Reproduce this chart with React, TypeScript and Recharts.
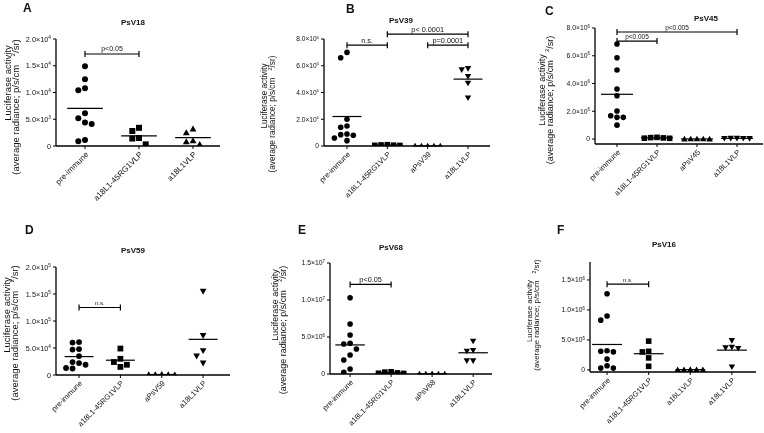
import React from "react"
import { ScatterChart, Scatter, XAxis, YAxis, ReferenceLine } from "recharts"

const FONT = '"Liberation Sans", Arial, Helvetica, sans-serif'
const INK = { fill: "#111" }

// panel headings
const letters = ["A", "B", "C", "D", "E", "F"]
const titles = ["PsV18", "PsV39", "PsV45", "PsV59", "PsV68", "PsV16"]

// x categories
const catsA = ["pre-immune", "a18L1-45RG1VLP", "a18L1VLP"]
const catsB = ["pre-immune", "a18L1-45RG1VLP", "aPsV39", "a18L1VLP"]
const catsC = ["pre-immune", "a18L1-45RG1VLP", "aPsV45", "a18L1VLP"]
const catsD = ["pre-immune", "a18L1-45RG1VLP", "aPsV59", "a18L1VLP"]
const catsE = ["pre-immune", "a18L1-45RG1VLP", "aPsV68", "a18L1VLP"]
const catsF = ["pre-immune", "a18L1-45RG1VLP", "a16L1VLP", "a18L1VLP"]

// luciferase activity (average radiance) per animal, one list per group
const psv18 = [
  [14900, 12500, 10800, 10400, 6100, 5200, 4400, 4100, 1100, 900],
  [3400, 2800, 1500, 1400, 300],
  [3200, 2500, 1000, 800, 300],
]
const psv39 = [
  [7000000, 6600000, 2000000, 1500000, 1400000, 900000, 850000, 800000, 600000, 400000],
  [80000, 60000, 100000, 50000, 40000],
  [4000, 6000, 3000, 5000, 2000],
  [5700000, 5800000, 5200000, 4700000, 3600000],
]
const psv45 = [
  [6850000, 5860000, 4970000, 3600000, 3120000, 2020000, 1680000, 1560000, 1560000, 1000000],
  [120000, 100000, 80000, 60000, 50000],
  [10000, 5000, 0, 8000, 3000],
  [60000, 50000, 40000, 55000, 45000],
]
const psv59 = [
  [61000, 60000, 48000, 47000, 35000, 24000, 22000, 19000, 12000, 13000],
  [49000, 30000, 24000, 19000, 15000],
  [1000, 800, 1200, 500, 700],
  [155000, 73000, 45000, 35000, 22000],
]
const psv68 = [
  [10300000, 6750000, 5270000, 4150000, 4050000, 3380000, 2570000, 1900000, 680000, 230000],
  [300000, 250000, 150000, 100000, 80000],
  [20000, 15000, 10000, 25000, 5000],
  [4450000, 3200000, 3100000, 1800000, 1800000],
]
const psv16 = [
  [1270000, 900000, 830000, 320000, 310000, 300000, 180000, 70000, 30000, 30000],
  [480000, 310000, 300000, 200000, 60000],
  [5000, 3000, 4000, 6000, 2000],
  [490000, 370000, 360000, 380000, 50000],
]

// y ticks and axis ranges
const ticksA = [0, 5000, 10000, 15000, 20000]
const ticksB = [0, 2e6, 4e6, 6e6, 8e6]
const ticksC = [0, 2e6, 4e6, 6e6, 8e6]
const ticksD = [0, 5e4, 1e5, 1.5e5, 2e5]
const ticksE = [0, 5e6, 1e7, 1.5e7]
const ticksF = [0, 5e5, 1e6, 1.5e6]
const domA = [0, 20000]
const domB = [0, 8e6]
const domC = [-3.6e5, 8e6]
const domD = [0, 2e5]
const domE = [0, 1.5e7]
const domF = [-3.5e4, 1.8e6]

// significance brackets: group indices, height, text
const sigA = [{ from: 0, to: 1, y: 17200, text: "p<0.05" }]
const sigB = [
  { from: 0, to: 1, y: 7.54e6, text: "n.s." },
  { from: 1, to: 3, y: 8.36e6, text: "p< 0.0001" },
  { from: 2, to: 3, y: 7.54e6, text: "p=0.0001" },
]
const sigC = [
  { from: 0, to: 3, y: 7.71e6, text: "p<0.005" },
  { from: 0, to: 1, y: 7.06e6, text: "p<0.005" },
]
const sigD = [{ from: 0, to: 1, y: 125000, text: "n.s." }]
const sigE = [{ from: 0, to: 1, y: 12.1e6, text: "p<0.05" }]
const sigF = [{ from: 0, to: 1, y: 1.43e6, text: "n.s." }]

const shapes3 = ["circle", "square", "up"]
const shapes4 = ["circle", "square", "up", "down"]

// layout in page pixels
const layouts = [
  { x0: 0, y0: 0, w: 250, h: 215, left: 56, right: 220, top: 39, bottom: 146, xDom: [-0.537, 2.5], r: 3.0, tickFs: 7.3, catFs: 8, sigFs: 7, hw: 0.33 },
  { x0: 250, y0: 0, w: 255, h: 215, left: 324, right: 490, top: 39, bottom: 146, xDom: [-0.57, 3.545], r: 2.8, tickFs: 6.6, catFs: 7.5, sigFs: 7.3, hw: 0.36 },
  { x0: 505, y0: 0, w: 259, h: 215, left: 595, right: 763, top: 28, bottom: 144, xDom: [-0.55, 3.65], r: 2.8, tickFs: 6.8, catFs: 7.5, sigFs: 6.5, hw: 0.4 },
  { x0: 0, y0: 215, w: 250, h: 218, left: 56, right: 230, top: 267, bottom: 375, xDom: [-0.557, 3.65], r: 2.9, tickFs: 7.3, catFs: 7.5, sigFs: 6, hw: 0.35 },
  { x0: 250, y0: 215, w: 255, h: 218, left: 330, right: 492, top: 263, bottom: 374, xDom: [-0.49, 3.46], r: 2.8, tickFs: 6.8, catFs: 7.5, sigFs: 7.3, hw: 0.36 },
  { x0: 505, y0: 215, w: 259, h: 218, left: 590, right: 756, top: 262, bottom: 372, xDom: [-0.41, 3.58], r: 2.8, tickFs: 6.8, catFs: 7.5, sigFs: 6, hw: 0.36 },
]

const letterPos = [[23, 11.5], [346, 12.5], [545, 14.5], [25, 233.5], [298, 233.5], [557, 233.5]]
const titlePos = [[133, 25], [401, 23], [706, 21], [133, 253], [391, 250], [664, 247]]
// y-axis title: [line1 x, line1 y, line2 x, line2 y, font size]
const yTitlePos = [
  [8, 83, 16, 107, 9.5],
  [265, 96, 273, 114, 8.2],
  [542, 90, 550, 100, 9],
  [7, 315, 15, 333, 9.5],
  [275, 305, 283, 330, 9],
  [530, 311, 537, 315, 7.8],
]

// simple beeswarm so that points of one column don't overlap
function swarm(values: number[], pxY: number, step: number) {
  const order = values.map((_, i) => i).sort((a, b) => values[b] - values[a])
  const placed: { px: number; py: number }[] = []
  const offs = new Array(values.length).fill(0)
  for (const i of order) {
    const py = values[i] * pxY
    for (let k = 0; k < 30; k++) {
      const slot = k === 0 ? 0 : k % 2 === 1 ? -Math.ceil(k / 2) : Math.ceil(k / 2)
      const px = slot * step
      const hit = placed.some((p) => Math.hypot(p.px - px, p.py - py) < step * 0.98)
      if (!hit) {
        placed.push({ px, py })
        offs[i] = px
        break
      }
    }
  }
  return offs
}

function Marker({ cx, cy, kind, r }: any) {
  if (cx == null || cy == null) return null
  if (kind === "circle") return <circle cx={cx} cy={cy} r={r} fill="#000" />
  if (kind === "square") return <rect x={cx - r} y={cy - r} width={2 * r} height={2 * r} fill="#000" />
  const a = r * 1.15
  if (kind === "up")
    return <polygon points={`${cx},${cy - a} ${cx + a},${cy + a * 0.75} ${cx - a},${cy + a * 0.75}`} fill="#000" />
  return <polygon points={`${cx},${cy + a} ${cx + a},${cy - a * 0.75} ${cx - a},${cy - a * 0.75}`} fill="#000" />
}

function ValTick({ x, y, payload, fs }: any) {
  const v = payload.value
  if (v === 0) {
    return (
      <text x={x} y={y} dy={fs * 0.35} textAnchor="end" fontSize={fs} fontFamily={FONT} style={INK}>
        0
      </text>
    )
  }
  const e = Math.floor(Math.log10(Math.abs(v)) + 1e-9)
  const m = (v / Math.pow(10, e)).toFixed(1)
  return (
    <text x={x} y={y} dy={fs * 0.35} textAnchor="end" fontSize={fs} fontFamily={FONT} style={INK}>
      {m}×10
      <tspan dy={-fs * 0.4} fontSize={fs * 0.65}>
        {e}
      </tspan>
    </text>
  )
}

function CatTick({ x, y, payload, cats, fs }: any) {
  return (
    <g transform={`translate(${x},${y})`}>
      <text x={0} y={0} dy={fs * 0.7} textAnchor="end" transform="rotate(-45)" fontSize={fs} fontFamily={FONT} style={INK}>
        {cats[Math.round(payload.value)]}
      </text>
    </g>
  )
}

function SigLabel({ viewBox, text, fs }: any) {
  if (!viewBox) return null
  const { x, y, width } = viewBox
  return (
    <text x={x + width / 2} y={y - 2.5} textAnchor="middle" fontSize={fs} fontFamily={FONT} style={INK}>
      {text}
    </text>
  )
}

function Panel({ cats, groups, shapes, ticks, dom, sig, L }: any) {
  const pxY = (L.bottom - L.top) / (dom[1] - dom[0])
  const pxX = (L.right - L.left) / (L.xDom[1] - L.xDom[0])
  const step = 2 * L.r + 0.7
  const series = groups.map((vals: number[], gi: number) => {
    const offs = swarm(vals, pxY, step)
    return vals.map((v, k) => ({ x: gi + offs[k] / pxX, y: v }))
  })
  const means = groups.map((vals: number[]) => vals.reduce((s, v) => s + v, 0) / vals.length)
  const cap = 3 / pxY
  const line = { stroke: "#000", strokeWidth: 1.2, ifOverflow: "visible" as const }
  return (
    <div style={{ position: "absolute", left: L.x0, top: L.y0 }}>
      <ScatterChart
        width={L.w}
        height={L.h}
        margin={{ top: L.top - L.y0, right: L.x0 + L.w - L.right, bottom: 0, left: 0 }}
      >
        <XAxis
          type="number"
          dataKey="x"
          domain={L.xDom}
          ticks={cats.map((_: string, i: number) => i)}
          interval={0}
          allowDataOverflow
          height={L.y0 + L.h - L.bottom}
          tickSize={3}
          tickMargin={2}
          axisLine={{ stroke: "#000", strokeWidth: 1.3 }}
          tickLine={{ stroke: "#000", strokeWidth: 1 }}
          tick={(p: any) => <CatTick {...p} cats={cats} fs={L.catFs} />}
        />
        <YAxis
          type="number"
          dataKey="y"
          domain={dom}
          ticks={ticks}
          interval={0}
          allowDataOverflow
          width={L.left - L.x0}
          tickSize={3}
          tickMargin={2}
          axisLine={{ stroke: "#000", strokeWidth: 1.3 }}
          tickLine={{ stroke: "#000", strokeWidth: 1 }}
          tick={(p: any) => <ValTick {...p} fs={L.tickFs} />}
        />
        {series.map((data: any[], gi: number) => (
          <Scatter
            key={gi}
            data={data}
            isAnimationActive={false}
            shape={(p: any) => <Marker cx={p.cx} cy={p.cy} kind={shapes[gi]} r={L.r} />}
          />
        ))}
        {means.map((m: number, gi: number) => (
          <ReferenceLine
            key={"m" + gi}
            segment={[{ x: gi - L.hw, y: m }, { x: gi + L.hw, y: m }]}
            {...line}
          />
        ))}
        {sig.map((s: any, i: number) => [
          <ReferenceLine
            key={"s" + i}
            segment={[{ x: s.from, y: s.y }, { x: s.to, y: s.y }]}
            {...line}
            label={(lp: any) => <SigLabel {...lp} text={s.text} fs={L.sigFs} />}
          />,
          <ReferenceLine key={"a" + i} segment={[{ x: s.from, y: s.y - cap }, { x: s.from, y: s.y + cap }]} {...line} />,
          <ReferenceLine key={"b" + i} segment={[{ x: s.to, y: s.y - cap }, { x: s.to, y: s.y + cap }]} {...line} />,
        ])}
      </ScatterChart>
    </div>
  )
}

const panels = [
  { cats: catsA, groups: psv18, shapes: shapes3, ticks: ticksA, dom: domA, sig: sigA },
  { cats: catsB, groups: psv39, shapes: shapes4, ticks: ticksB, dom: domB, sig: sigB },
  { cats: catsC, groups: psv45, shapes: shapes4, ticks: ticksC, dom: domC, sig: sigC },
  { cats: catsD, groups: psv59, shapes: shapes4, ticks: ticksD, dom: domD, sig: sigD },
  { cats: catsE, groups: psv68, shapes: shapes4, ticks: ticksE, dom: domE, sig: sigE },
  { cats: catsF, groups: psv16, shapes: shapes4, ticks: ticksF, dom: domF, sig: sigF },
]

export default function App() {
  return (
    <div
      style={{
        position: "fixed",
        left: 0,
        top: 0,
        width: 764,
        height: 433,
        background: "#fff",
        overflow: "hidden",
        fontFamily: FONT,
        filter: "grayscale(1)",
      }}
    >
      {panels.map((p, i) => (
        <Panel key={i} {...p} L={layouts[i]} />
      ))}
      <svg width={764} height={433} style={{ position: "absolute", left: 0, top: 0, pointerEvents: "none" }}>
        {letters.map((t, i) => (
          <text key={"l" + i} x={letterPos[i][0]} y={letterPos[i][1]} fontSize={12} fontWeight="bold" fontFamily={FONT} style={INK}>
            {t}
          </text>
        ))}
        {titles.map((t, i) => (
          <text key={"t" + i} x={titlePos[i][0]} y={titlePos[i][1]} textAnchor="middle" fontSize={8} fontWeight="bold" fontFamily={FONT} style={INK}>
            {t}
          </text>
        ))}
        {yTitlePos.map(([x1, y1, x2, y2, fs], i) => (
          <g key={"y" + i} fontFamily={FONT} fontSize={fs} style={INK}>
            <text transform={`translate(${x1 + fs * 0.3},${y1}) rotate(-90)`} textAnchor="middle">
              Luciferase activity
            </text>
            <text transform={`translate(${x2 + fs * 0.3},${y2}) rotate(-90)`} textAnchor="middle">
              (average radiance; p/s/cm
              <tspan dx={fs * 0.9} dy={-fs * 0.4} fontSize={fs * 0.65}>
                2
              </tspan>
              <tspan dy={fs * 0.4}>/sr)</tspan>
            </text>
          </g>
        ))}
      </svg>
    </div>
  )
}
